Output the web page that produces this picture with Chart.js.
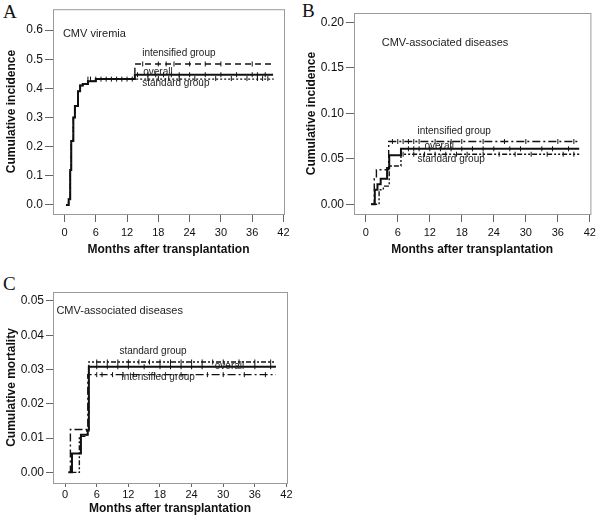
<!DOCTYPE html>
<html lang="en">
<head>
  <meta charset="UTF-8">
  <title>CMV cumulative incidence and mortality</title>
  <script src="https://cdn.jsdelivr.net/npm/chart.js"></script>
  <style>
    body {
      margin: 0;
      background: #ffffff;
      width: 600px;
      height: 526px;
      position: relative;
      overflow: hidden;
    }
    canvas {
      position: absolute;
    }
    .tag {
      position: absolute;
      font-family: "Liberation Serif", "DejaVu Serif", serif;
      font-size: 19px;
      line-height: 19px;
      color: #111;
    }
  </style>
</head>
<body>
  <div class="tag" style="left:3px; top:2px;">A</div>
  <div class="tag" style="left:302px; top:1px;">B</div>
  <div class="tag" style="left:3px; top:274px;">C</div>
  <canvas id="chartA" width="300" height="265" style="left:0; top:0;"></canvas>
  <canvas id="chartB" width="300" height="265" style="left:300px; top:0;"></canvas>
  <canvas id="chartC" width="300" height="264" style="left:0; top:262px;"></canvas>

  <script>
    const xTicks = [0, 6, 12, 18, 24, 30, 36, 42];

    // Panel A - CMV viremia, cumulative incidence
    const aTicks = [0, 0.1, 0.2, 0.3, 0.4, 0.5, 0.6];
    const aTimeOverall = [0.3, 0.8, 1.1, 1.3, 1.7, 2.0, 2.6, 3.0, 3.5, 4.5, 6.0, 13.5, 40];
    const aOverall = [0, 0.02, 0.12, 0.22, 0.30, 0.34, 0.39, 0.41, 0.415, 0.425, 0.432, 0.447, 0.447];
    const aTimeIntens = [0.3, 0.8, 1.1, 1.3, 1.7, 2.0, 2.6, 3.0, 3.5, 4.5, 6.0, 13.5, 40];
    const aIntens = [0, 0.02, 0.12, 0.22, 0.30, 0.34, 0.39, 0.41, 0.415, 0.425, 0.432, 0.484, 0.484];
    const aTimeStd = [0.3, 0.8, 1.1, 1.3, 1.7, 2.0, 2.6, 3.0, 3.5, 4.5, 6.0, 40];
    const aStd = [0, 0.02, 0.12, 0.22, 0.30, 0.34, 0.39, 0.41, 0.415, 0.425, 0.432, 0.434];
    // censored observations (small vertical ticks)
    const aCensEarly = [4.5, 5, 6, 7, 8, 9, 10, 11, 12, 13];
    const aCensEarlyVal = 0.432;
    const aCensOverall = [14, 16, 17.5, 19, 20.5, 22, 24, 27, 30, 33, 36, 37, 38.5];
    const aCensIntens = [15, 18, 19.5, 21, 24, 27, 30, 36];
    const aCensStd = [16, 18, 20, 22, 25, 29, 32, 35, 37, 38, 39];

    // Panel B - CMV-associated diseases, cumulative incidence
    const bTicks = [0, 0.05, 0.10, 0.15, 0.20];
    const bTimeOverall = [1.0, 1.7, 2.2, 2.8, 4.0, 4.4, 6.6, 40];
    const bOverall = [0, 0.016, 0.022, 0.028, 0.040, 0.054, 0.061, 0.061];
    const bTimeIntens = [1.0, 1.6, 2.0, 4.3, 40];
    const bIntens = [0, 0.028, 0.038, 0.069, 0.069];
    const bTimeStd = [1.2, 2.5, 3.3, 4.4, 6.6, 40];
    const bStd = [0, 0.016, 0.020, 0.042, 0.055, 0.055];
    const bCensOverall = [8, 9, 10, 12, 14, 16, 18, 20, 22, 24, 27, 29, 33, 35, 38];
    const bCensIntens = [5, 6, 7, 8, 9, 10, 13, 16, 18, 22, 26, 30, 36, 39];
    const bCensStd = [7, 9, 11, 13, 15, 17, 19, 22, 25, 28, 31, 34, 37, 39];

    // Panel C - CMV-associated diseases, cumulative mortality
    const cTicks = [0, 0.01, 0.02, 0.03, 0.04, 0.05];
    const cTimeOverall = [0.6, 1.3, 3.0, 4.3, 4.5, 40];
    const cOverall = [0, 0.0055, 0.011, 0.0122, 0.0308, 0.0308];
    const cTimeIntens = [0.8, 1.0, 4.3, 40];
    const cIntens = [0, 0.0125, 0.0285, 0.0285];
    const cTimeStd = [1.2, 2.7, 4.1, 4.5, 40];
    const cStd = [0, 0.0105, 0.0122, 0.0322, 0.0322];
    const cCensOverall = [6, 8, 10, 12, 15, 18, 20, 22, 24, 26, 36, 39];
    const cCensIntens = [6, 7, 9, 11, 13, 17, 22, 27, 30, 34, 38];
    const cCensStd = [6, 8, 10, 12, 14, 16, 18, 20, 22, 24, 26, 28, 30, 33, 36, 39];

    const FONT = '"Liberation Sans", Arial, sans-serif';

    function pts(times, vals) {
      return times.map((t, i) => ({ x: t, y: vals[i] }));
    }

    function series(times, vals, dash, width) {
      return {
        data: pts(times, vals),
        borderColor: '#111',
        borderWidth: width,
        borderDash: dash,
        stepped: true,
        pointRadius: 0,
        fill: false
      };
    }

    function censored(times, level) {
      return {
        data: times.map(t => ({ x: t, y: level })),
        showLine: false,
        pointStyle: 'line',
        rotation: 90,
        pointRadius: 2.5,
        borderColor: '#111',
        borderWidth: 1
      };
    }

    // grey box round the plot area plus the free text labels
    const panelDecor = {
      id: 'panelDecor',
      beforeDatasetsDraw(chart) {
        const { ctx, chartArea: a } = chart;
        ctx.save();
        ctx.strokeStyle = '#9a9a9a';
        ctx.lineWidth = 1;
        ctx.strokeRect(a.left + 0.5, a.top + 0.5, a.right - a.left, a.bottom - a.top);
        ctx.restore();
      },
      afterDatasetsDraw(chart, args, opts) {
        const { ctx, scales } = chart;
        ctx.save();
        ctx.fillStyle = '#222';
        ctx.textAlign = 'left';
        ctx.textBaseline = 'middle';
        (opts.notes || []).forEach(n => {
          ctx.font = n.size + 'px ' + FONT;
          ctx.fillText(n.text, scales.x.getPixelForValue(n.x), scales.y.getPixelForValue(n.y));
        });
        ctx.restore();
      }
    };

    function makePanel(id, cfg) {
      return new Chart(document.getElementById(id), {
        type: 'line',
        data: { datasets: cfg.datasets },
        options: {
          responsive: false,
          animation: false,
          layout: { padding: { left: 0, top: cfg.top, right: cfg.right, bottom: 0 } },
          plugins: {
            legend: { display: false },
            tooltip: { enabled: false },
            panelDecor: { notes: cfg.notes }
          },
          scales: {
            x: {
              type: 'linear',
              min: cfg.xMin,
              max: 42.1,
              afterBuildTicks: s => { s.ticks = xTicks.map(v => ({ value: v })); },
              afterFit: s => { s.height = cfg.xHeight; },
              grid: { drawOnChartArea: false, tickLength: cfg.xTickLen, color: '#666' },
              border: { display: false },
              ticks: { color: '#111', font: { family: FONT, size: 11 }, padding: cfg.xPad, maxRotation: 0, autoSkip: false },
              title: {
                display: true, text: 'Months after transplantation', color: '#111',
                font: { family: FONT, size: 12, weight: 'bold' }, padding: { top: 0, bottom: cfg.xTitlePad }
              }
            },
            y: {
              type: 'linear',
              min: cfg.yMin,
              max: cfg.yMax,
              afterBuildTicks: s => { s.ticks = cfg.yTicks.map(v => ({ value: v })); },
              afterFit: s => { s.width = cfg.yWidth; },
              grid: { drawOnChartArea: false, tickLength: cfg.yTickLen, color: '#666' },
              border: { display: false },
              ticks: {
                color: '#111', font: { family: FONT, size: 12 }, padding: 2,
                callback: v => v.toFixed(cfg.decimals)
              },
              title: {
                display: true, text: cfg.yTitle, color: '#111',
                font: { family: FONT, size: 12, weight: 'bold' }, padding: { top: 4, bottom: 0 }
              }
            }
          }
        },
        plugins: [panelDecor]
      });
    }

    makePanel('chartA', {
      datasets: [
        series(aTimeIntens, aIntens, [6, 4], 1.4),
        series(aTimeStd, aStd, [2, 2], 1.4),
        series(aTimeOverall, aOverall, [], 2),
        censored(aCensEarly, aCensEarlyVal),
        censored(aCensOverall, aOverall[aOverall.length - 1]),
        censored(aCensIntens, aIntens[aIntens.length - 1]),
        censored(aCensStd, aStd[aStd.length - 1])
      ],
      notes: [
        { text: 'CMV viremia', x: -0.3, y: 0.586, size: 11 },
        { text: 'intensified group', x: 14.9, y: 0.52, size: 10 },
        { text: 'overall', x: 15.1, y: 0.455, size: 10 },
        { text: 'standard group', x: 14.9, y: 0.419, size: 10 }
      ],
      top: 7, right: 16, xHeight: 51, yWidth: 53,
      xMin: -2.2, yMin: -0.031, yMax: 0.672, yTicks: aTicks, decimals: 1,
      xTickLen: 8, yTickLen: 8, xPad: 4, xTitlePad: 8,
      yTitle: 'Cumulative incidence'
    });

    makePanel('chartB', {
      datasets: [
        series(bTimeIntens, bIntens, [8, 3, 2, 3], 1.4),
        series(bTimeStd, bStd, [5, 2, 2, 2, 2, 2], 1.4),
        series(bTimeOverall, bOverall, [], 2),
        censored(bCensOverall, bOverall[bOverall.length - 1]),
        censored(bCensIntens, bIntens[bIntens.length - 1]),
        censored(bCensStd, bStd[bStd.length - 1])
      ],
      notes: [
        { text: 'CMV-associated diseases', x: 3.0, y: 0.1776, size: 11 },
        { text: 'intensified group', x: 9.7, y: 0.0808, size: 10 },
        { text: 'overall', x: 11.0, y: 0.0643, size: 10 },
        { text: 'standard group', x: 9.7, y: 0.050, size: 10 }
      ],
      top: 13, right: 8, xHeight: 51, yWidth: 54,
      xMin: -2.2, yMin: -0.0107, yMax: 0.2103, yTicks: bTicks, decimals: 2,
      xTickLen: 8, yTickLen: 8, xPad: 4, xTitlePad: 8,
      yTitle: 'Cumulative incidence'
    });

    makePanel('chartC', {
      datasets: [
        series(cTimeIntens, cIntens, [8, 3, 2, 3], 1.4),
        series(cTimeStd, cStd, [5, 2, 2, 2, 2, 2], 1.4),
        series(cTimeOverall, cOverall, [], 2),
        censored(cCensOverall, cOverall[cOverall.length - 1]),
        censored(cCensIntens, cIntens[cIntens.length - 1]),
        censored(cCensStd, cStd[cStd.length - 1])
      ],
      notes: [
        { text: 'CMV-associated diseases', x: -1.65, y: 0.047, size: 11 },
        { text: 'standard group', x: 10.3, y: 0.0354, size: 10 },
        { text: 'overall', x: 28.4, y: 0.031, size: 10 },
        { text: 'intensified group', x: 10.7, y: 0.0278, size: 10 }
      ],
      top: 30, right: 13, xHeight: 43, yWidth: 53,
      xMin: -2.3, yMin: -0.0031, yMax: 0.0526, yTicks: cTicks, decimals: 2,
      xTickLen: 4, yTickLen: 7, xPad: 1, xTitlePad: 10,
      yTitle: 'Cumulative mortality'
    });
  </script>
</body>
</html>
